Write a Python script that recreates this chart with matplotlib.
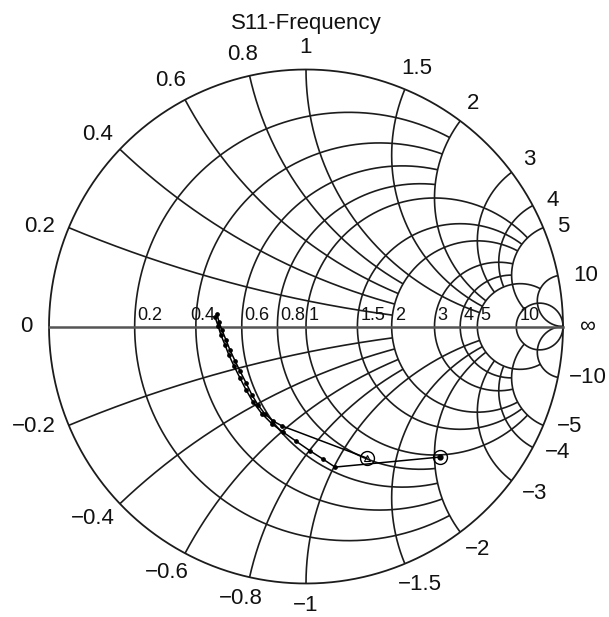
import numpy as np
import matplotlib
matplotlib.use("Agg")
import matplotlib.pyplot as plt

plt.rcParams['font.family'] = ['Liberation Sans', 'DejaVu Sans']

# ---------------- data ----------------
title = "S11-Frequency"
grid_values = [0.2, 0.4, 0.6, 0.8, 1, 1.5, 2, 3, 4, 5, 10]
grid_ends = [2, 2, 2, 2, 5, 5, 5, 5, 5, 10, np.inf]
axis_labels = ["0.2", "0.4", "0.6", "0.8", "1", "1.5", "2", "3", "4", "5", "10"]
pos_x_labels = ["0.2", "0.4", "0.6", "0.8", "1", "1.5", "2", "3", "4", "5", "10"]
neg_x_labels = ["\u22120.2", "\u22120.4", "\u22120.6", "\u22120.8", "\u22121", "\u22121.5",
                "\u22122", "\u22123", "\u22124", "\u22125", "\u221210"]

# S11 traces (reflection coefficient, real / imag)
t1_re = [-0.346, -0.339, -0.327, -0.311, -0.296, -0.276, -0.257, -0.233, -0.210,
         -0.187, -0.160, -0.128, -0.093, 0.237]
t1_im = [0.049, 0.018, -0.014, -0.053, -0.091, -0.134, -0.173, -0.220, -0.267,
         -0.305, -0.340, -0.368, -0.387, -0.512]
t2_re = [-0.354, -0.342, -0.331, -0.315, -0.300, -0.280, -0.257, -0.233, -0.206,
         -0.171, -0.132, -0.089, -0.039, 0.016, 0.066, 0.113, 0.521]
t2_im = [0.037, 0.002, -0.033, -0.072, -0.111, -0.154, -0.200, -0.247, -0.294,
         -0.340, -0.379, -0.411, -0.446, -0.484, -0.516, -0.547, -0.508]

# ---------------- figure ----------------
W, H = 609, 617
CX, CY, RPX = 306.0, 326.5, 257.0
fig = plt.figure(figsize=(W / 100, H / 100), dpi=100)
ax = fig.add_axes([0, 0, 1, 1])
ax.set_xlim(-CX / RPX, (W - CX) / RPX)
ax.set_ylim((CY - H) / RPX, CY / RPX)
ax.axis('off')

LC = '#1c1c1c'
LW = 1.2


def gam(z):
    return (z - 1) / (z + 1)


# constant resistance circles
for r, e in zip(grid_values, grid_ends):
    if np.isinf(e):
        u = np.linspace(-np.pi / 2 + 1e-7, np.pi / 2 - 1e-7, 3000)
    else:
        u = np.linspace(-np.arctan(e), np.arctan(e), 1500)
    g = gam(r + 1j * np.tan(u))
    ax.plot(g.real, g.imag, color=LC, lw=LW, solid_capstyle='butt')

# constant reactance arcs
for x, e in zip(grid_values, grid_ends):
    if np.isinf(e):
        u = np.linspace(0, np.pi / 2 - 1e-7, 3000)
    else:
        u = np.linspace(0, np.arctan(e), 1500)
    rr = np.tan(u)
    for s in (1, -1):
        g = gam(rr + 1j * s * x)
        ax.plot(g.real, g.imag, color=LC, lw=LW, solid_capstyle='butt')

# outer circle and real axis
th = np.linspace(0, 2 * np.pi, 1000)
ax.plot(np.cos(th), np.sin(th), color=LC, lw=1.3)
ax.plot([-1, 1], [0, 0], color='#555555', lw=1.8)

# real axis labels
label_shift = {"0.4": -9}
for r, lab in zip(grid_values, axis_labels):
    gx = gam(r).real
    dx = 3 + label_shift.get(lab, 0)
    ax.text(gx + dx / RPX, 3 / RPX, lab, fontsize=13, ha='left', va='bottom', color='#111111')

# outer labels
fig.canvas.draw()
renderer = fig.canvas.get_renderer()
outer = [(0.0, "0")] + [(x, l) for x, l in zip(grid_values, pos_x_labels)] + \
        [(-x, l) for x, l in zip(grid_values, neg_x_labels)]
gx_gap, gy_gap = 16, 14
for x, lab in outer:
    g = gam(1j * x) if x != 0 else -1 + 0j
    d = g / abs(g)
    t = ax.text(g.real, g.imag, lab, fontsize=16, ha='center', va='center', color='#111111')
    bb = t.get_window_extent(renderer)
    w, h = bb.width, 16.0
    f = np.clip((abs(d.imag) - 0.35) / 0.25, 0, 1)
    ox = d.real * (gx_gap + w / 2)
    oy = d.imag * (gy_gap + h / 2) * f
    px = CX + g.real * RPX + ox
    px = min(px, W - 2 - w / 2)
    px = max(px, 2 + w / 2)
    t.set_position(((px - CX) / RPX, g.imag + oy / RPX))
# infinity label
t = ax.text(1, 0, "\u221e", fontsize=16, ha='center', va='center', color='#111111')
bb = t.get_window_extent(renderer)
t.set_position((1 + (gx_gap + bb.width / 2) / RPX, 0))

# traces
ax.plot(t1_re[:-1], t1_im[:-1], color='black', lw=1.1, marker='o', ms=2.4)
ax.plot(t1_re[-2:], t1_im[-2:], color='black', lw=1.1)
ax.plot(t2_re[:-1], t2_im[:-1], color='black', lw=1.1, marker='o', ms=2.4)
ax.plot(t2_re[-2:], t2_im[-2:], color='black', lw=1.1)
ax.plot(t1_re[-1], t1_im[-1], marker='o', ms=10, mfc='none', mec='black', mew=1.0)
ax.plot(t1_re[-1], t1_im[-1], marker='^', ms=4, mfc='none', mec='black', mew=0.8)
ax.plot(t2_re[-1], t2_im[-1], marker='o', ms=10, mfc='none', mec='black', mew=1.0)
ax.plot(t2_re[-1], t2_im[-1], marker='o', ms=3.5, mfc='black', mec='black')

fig.text(CX / W, 1 - 23 / H, title, fontsize=16, ha='center', va='center', color='#111111')

fig.savefig("out.png", dpi=100)
